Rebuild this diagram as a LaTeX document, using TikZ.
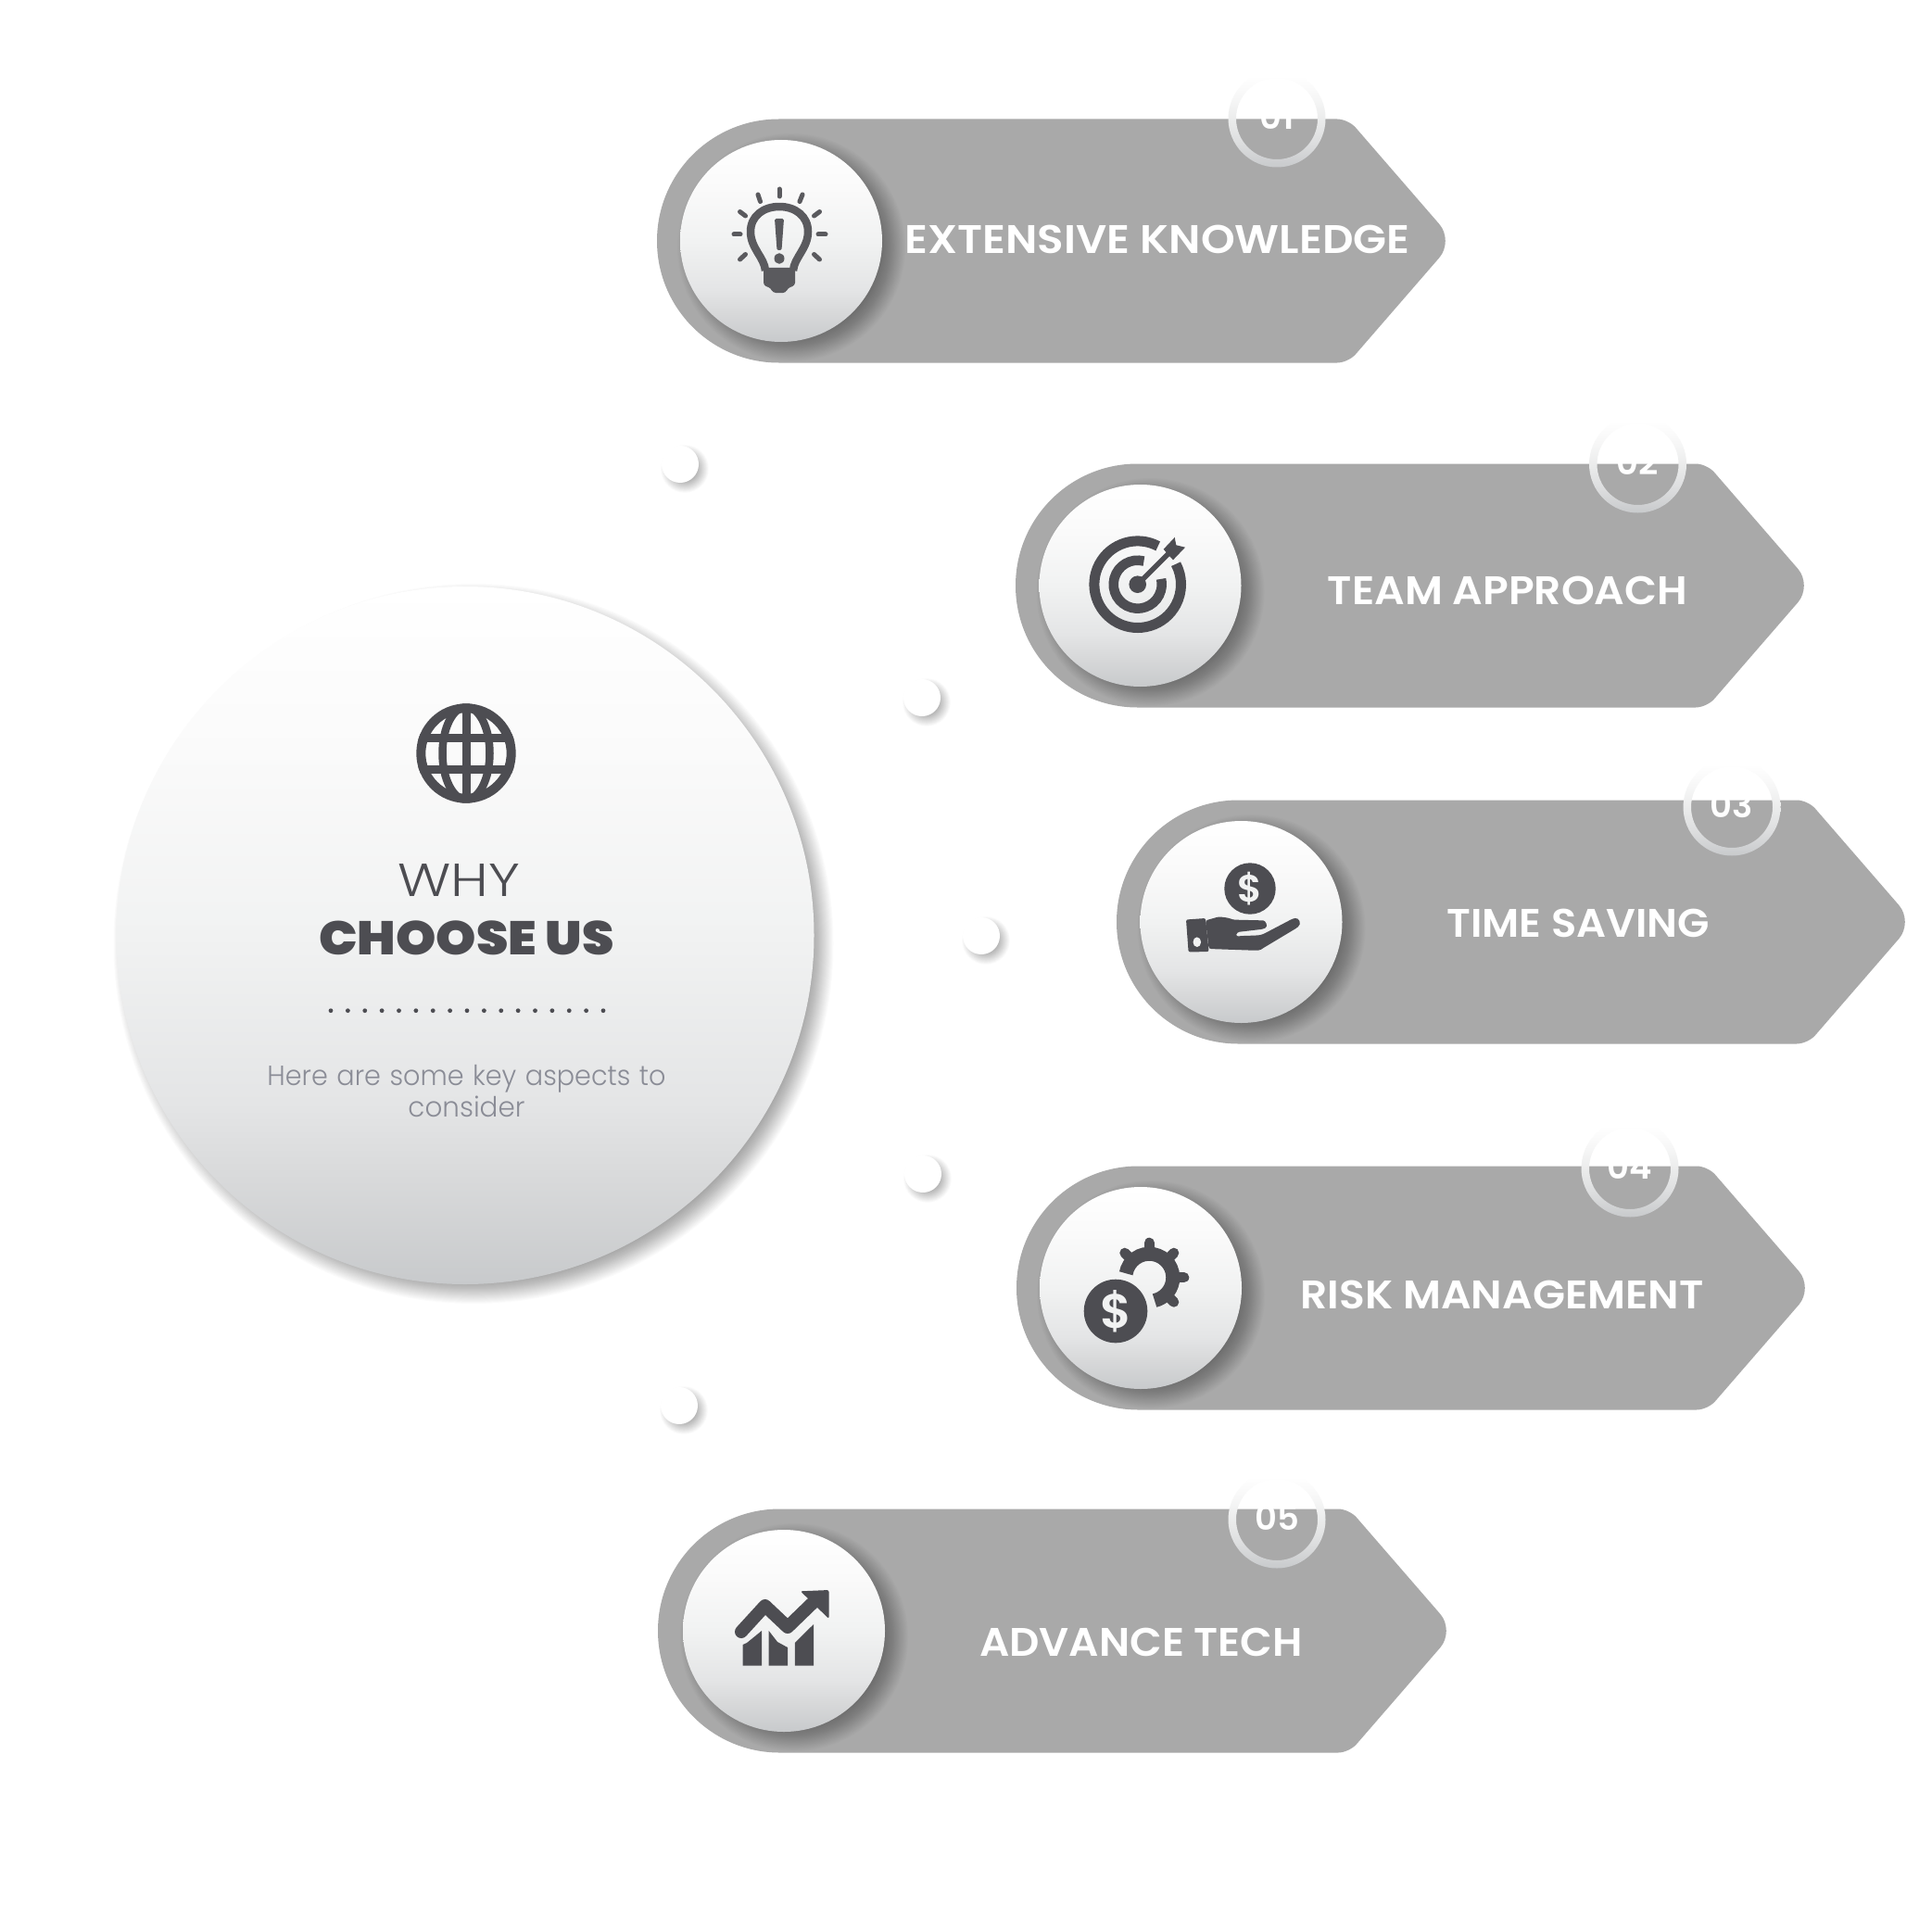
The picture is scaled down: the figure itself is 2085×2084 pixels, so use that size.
\documentclass[tikz,border=0pt]{standalone}
\usepackage{graphicx}
\usepackage{fontspec}
\setmainfont{Poppins}
\newfontfamily\fsemi{Poppins SemiBold}
\newfontfamily\flight{Poppins Light}
\newfontfamily\fblack{Poppins Black}
\definecolor{bannergrey}{HTML}{A9A9A9}
\definecolor{icondark}{HTML}{4D4D52}
\definecolor{bulbgrey}{HTML}{5A5A5E}
\definecolor{shadelow}{HTML}{C8CACC}
\definecolor{shademid}{HTML}{F1F2F2}
\definecolor{bodygrey}{HTML}{8A8C96}
\definecolor{stopa}{HTML}{D9DADB}
\definecolor{stopb}{HTML}{E4E5E6}
\definecolor{stopc}{HTML}{F1F2F2}
\definecolor{stopd}{HTML}{FAFAFA}
\definecolor{ringa}{HTML}{DDDEDF}
\definecolor{ringb}{HTML}{EBECEC}
\definecolor{ringc}{HTML}{F6F6F6}
\pgfdeclareverticalshading{discfade}{100bp}{color(0bp)=(shadelow); color(25bp)=(shadelow); color(33bp)=(stopa); color(38bp)=(stopb); color(50bp)=(stopc); color(63bp)=(stopd); color(75bp)=(white); color(100bp)=(white)}
\pgfdeclareverticalshading{ringfade}{100bp}{color(0bp)=(shadelow); color(25bp)=(shadelow); color(38bp)=(ringa); color(50bp)=(ringb); color(60bp)=(ringc); color(72bp)=(white); color(100bp)=(white)}
\tikzset{
  disc/.style={shading=discfade},
  labeltext/.style={text=white,font=\fsemi\fontsize{43}{43}\selectfont,inner sep=0pt,anchor=center},
  numtext/.style={text=white,font=\fsemi\fontsize{37}{37}\selectfont,inner sep=0pt,anchor=center},
  ringshade/.style={shading=ringfade,even odd rule},
  iconline/.style={draw=icondark,line cap=butt},
  coinmark/.style={text=shademid,inner sep=0pt},
}
\newcommand{\sx}[2]{\scalebox{#1}[1]{#2}}
\newcommand{\softshadow}[6]{% x y r dx dy spread ; opacity fixed via \shadowop
  \foreach \ii in {0,...,23}{
    \pgfmathsetmacro\rr{#3+#6-\ii*2*#6/23}
    \fill[black,opacity=\shadowop] (#1+#4,-#2-#5) circle (\rr);
  }}
\newcommand{\shadowop}{0.017}
\newcommand{\bannerband}[5]{% L cy ringx ringy
  \pgfmathsetmacro\bl{#1}\pgfmathsetmacro\bt{-#2+131.5}\pgfmathsetmacro\bb{-#2-131.5}
  \fill[bannergrey,rounded corners=12pt] (\bl+131.5,\bt) -- (\bl+746,\bt)
     [rounded corners=24pt] -- (\bl+860,-#2) [rounded corners=12pt] -- (\bl+746,\bb)
     [sharp corners] -- (\bl+131.5,\bb) arc (270:90:131.5) -- cycle;
  \path[ringshade] (#3,-#4) circle (52.5) (#3,-#4) circle (44);
  \node[numtext] (num#5) at (#3,-#4+2) {0#5};
}
\newcommand{\iconseat}[2]{% x y
  \softshadow{#1}{#2}{109}{11}{7}{14}
  \path[disc] (#1,-#2) circle (109);
}
\newcommand{\whitedot}[3]{%
  \begingroup\renewcommand{\shadowop}{0.012}
  \softshadow{#1}{#2}{20}{5}{5}{6}\endgroup
  \fill[white] (#1,-#2) circle (20) coordinate (#3);
}
\begin{document}
\begin{tikzpicture}[x=1pt,y=1pt]
\useasboundingbox (0,0) rectangle (2085,-2084);
\fill[white] (0,0) rectangle (2085,-2084);

% central disc
\begingroup\renewcommand{\shadowop}{0.014}
\softshadow{502}{1009.5}{376.5}{9}{9}{12}\endgroup
\path[disc] (502,-1009.5) circle (376.5);

% globe
\begin{scope}
\clip (503,-813) circle (53.7);
\draw[iconline,line width=8.5] (503,-813) ellipse (25.5 and 50);
\draw[iconline,line width=9] (503,-760) -- (503,-866);
\draw[iconline,line width=9] (445,-796.7) -- (561,-796.7);
\draw[iconline,line width=9] (445,-830) -- (561,-830);
\end{scope}
\draw[iconline,line width=10] (503,-813) circle (48.7);

\node[inner sep=0pt,text=icondark,font=\flight\fontsize{50}{50}\selectfont] (why) at (495,-950) {\sx{1.2}{WHY}};
\node[inner sep=0pt,text=icondark,font=\fblack\fontsize{51}{51}\selectfont] (choose) at (503.5,-1012) {\sx{1.08}{CHOOSE US}};
\foreach \k in {0,...,16}{ \fill[icondark] (357+\k*18.375,-1090.7) circle (2.4); }
\node[inner sep=0pt,text=bodygrey,font=\flight\fontsize{30}{34}\selectfont,align=center,text width=500pt] (intro) at (503.5,-1178) {\sx{0.955}{Here are some key aspects to}\\\sx{0.98}{consider}};

% dots
\whitedot{734}{501}{d1}
\whitedot{995}{753}{d2}
\whitedot{1059}{1010}{d3}
\whitedot{996}{1267}{d4}
\whitedot{733}{1517}{d5}

% banners
\bannerband{709}{260}{1378}{128}{1}
\bannerband{1096}{632}{1767.5}{501}{2}
\bannerband{1205}{995}{1869}{871}{3}
\bannerband{1097}{1390}{1759}{1261}{4}
\bannerband{710}{1760}{1378}{1640}{5}

\iconseat{843}{260}
\iconseat{1230.5}{632}
\iconseat{1339.5}{995}
\iconseat{1231}{1390}
\iconseat{846}{1760}

\node[labeltext] (t1) at (1249,-258) {\sx{1.088}{EXTENSIVE KNOWLEDGE}};
\node[labeltext] (t2) at (1627,-637) {\sx{1.06}{TEAM APPROACH}};
\node[labeltext] (t3) at (1703,-996.5) {\sx{1.04}{TIME SAVING}};
\node[labeltext] (t4) at (1621,-1397) {\sx{1.06}{RISK MANAGEMENT}};
\node[labeltext] (t5) at (1231.5,-1772) {\sx{1.05}{ADVANCE TECH}};

% bulb icon
\begin{scope}[bulbgrey]
\draw[line width=8.5,line join=round] (826,-292) .. controls (825,-278) and (810,-268) .. (810,-250)
   .. controls (810,-233) and (824,-223) .. (841,-223)
   .. controls (858,-223) and (872,-233) .. (872,-250)
   .. controls (872,-268) and (857,-278) .. (856,-292);
\fill[rounded corners=3pt] (824,-289) -- (858,-289) -- (858,-308) -- (850,-311) -- (848,-316) -- (834,-316) -- (832,-311) -- (824,-308) -- cycle;
\fill[rounded corners=1.5pt] (836,-236) -- (846,-236) -- (843.5,-270) -- (838.5,-270) -- cycle;
\fill (841,-279) ellipse (5.5 and 5.8);
\begin{scope}[line width=5,line cap=round]
\draw (841,-204) -- (841,-212);
\draw (792,-253) -- (799,-253);
\draw (883,-253) -- (891,-253);
\draw (798.5,-228.5) -- (804.5,-233);
\draw (818,-210) -- (820.5,-217.5);
\draw (866,-210) -- (863,-217.5);
\draw (884.5,-228.5) -- (878.5,-233);
\draw (798.5,-280) -- (804.5,-274.5);
\draw (884.5,-280) -- (878.5,-274.5);
\end{scope}
\end{scope}

% target icon
\draw[iconline,line width=11] (1227.7,-630.7) ++(62:46.8) arc (62:388:46.8);
\draw[iconline,line width=10.5] (1227.7,-630.7) ++(75:26) arc (75:373:26);
\fill[icondark] (1227.7,-630.7) circle (9.3);
\draw[iconline,line width=5.5] (1227.7,-630.7) -- (1261,-597.4);
\fill[icondark] (1255.7,-592.7) -- (1267.7,-580) -- (1269.3,-588.3) -- (1279,-590.7) -- (1266,-604.3) -- (1261,-599) -- cycle;

% hand + coin
\fill[icondark] (1349,-959) circle (27.7);
\node[coinmark,font=\fsemi\fontsize{41}{41}\selectfont] (coin3) at (1349,-959) {\$};
\fill[icondark,rounded corners=2pt] (1280,-992.5) -- (1301,-991) -- (1304.6,-1027) -- (1282.6,-1027.5) -- cycle;
\fill[icondark,rounded corners=2.5pt] (1301,-993.3) .. controls (1310,-991) and (1315,-989) .. (1320,-990)
  .. controls (1326,-990.5) and (1330,-992.5) .. (1335,-992.7) -- (1360.7,-993.3)
  .. controls (1366,-993.5) and (1369,-1000) .. (1363,-1002.7) -- (1335,-1006) -- (1333.7,-1010.7)
  .. controls (1345,-1009.5) and (1356,-1010) .. (1363,-1008.3) -- (1395,-991.5) .. controls (1402,-990) and (1405,-997) .. (1399,-1001.7)
  -- (1363,-1023.3) .. controls (1359,-1026) and (1356,-1025.7) .. (1353,-1025.7) -- (1304.6,-1024) -- cycle;
\fill[shademid] (1291.8,-1016.7) ellipse (4.3 and 5.3);

% gear + coin
\draw[iconline,line width=15] (1240.3,-1378.7) ++(170:25.5) arc (170:-77:25.5);
\foreach \a in {135,90,45,0,-45}{
  \draw[icondark,line width=11,line cap=round] (1240.3,-1378.7) ++(\a:32) -- ++(\a:5.5);
}
\fill[icondark] (1204,-1415) circle (34.3);
\node[coinmark,font=\fsemi\fontsize{52}{52}\selectfont] (coin4) at (1204,-1415) {\$};

% chart
\fill[icondark] (801.6,-1797.7) -- (801.6,-1775) -- (806,-1773) -- (822,-1760) -- (822,-1797.7) -- cycle;
\fill[icondark] (829.7,-1797.7) -- (829.7,-1760) -- (839,-1772) -- (850,-1778) -- (850,-1797.7) -- cycle;
\fill[icondark] (857.8,-1797.7) -- (857.8,-1773) -- (878,-1753) -- (878,-1797.7) -- cycle;
\draw[icondark,line width=14,line join=round,line cap=round] (800,-1761) -- (825.6,-1733) -- (850,-1756) -- (880,-1727);
\fill[icondark,rounded corners=2pt] (863.9,-1717.3) -- (894.5,-1716) -- (894.5,-1747) -- cycle;
\end{tikzpicture}
\end{document}
